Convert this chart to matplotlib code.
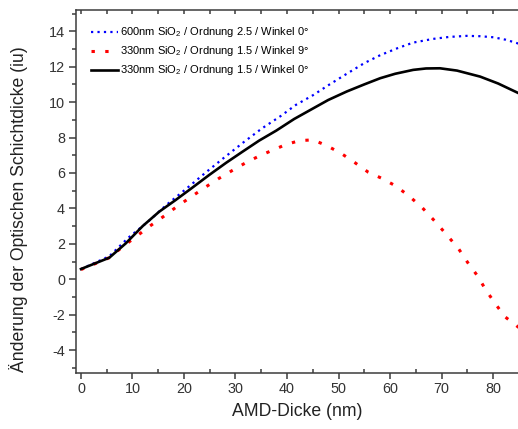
import numpy as np
import matplotlib
matplotlib.use("Agg")
import matplotlib.pyplot as plt
from matplotlib.ticker import MultipleLocator

plt.rcParams['font.family'] = ['Liberation Sans', 'DejaVu Sans']
plt.rcParams['mathtext.fontset'] = 'custom'
plt.rcParams['mathtext.rm'] = 'Liberation Sans'
plt.rcParams['mathtext.it'] = 'Liberation Sans:italic'
plt.rcParams['axes.unicode_minus'] = False

# AMD thickness (nm) and change of optical layer thickness (iu)
x_600_0 = [0, 5.5, 7.4, 9.2, 13.0, 16.6, 20.4, 24.1, 27.8, 31.5, 35.1, 38.8, 41.7,
           45.1, 48.0, 51.6, 55.0, 58.1, 61.5, 64.5, 68.4, 71.5, 74.9, 77.5,
           80.1, 82.5, 85.0]
y_600_0 = [0.58, 1.3, 1.84, 2.35, 3.25, 4.2, 5.1, 6.0, 6.87, 7.72, 8.51, 9.22, 9.84,
           10.4, 10.95, 11.6, 12.2, 12.65, 13.05, 13.36, 13.57, 13.68, 13.74, 13.72,
           13.66, 13.52, 13.3]

x_330_9 = [0, 2.9, 5.5, 8.1, 10.7, 13.4, 16.0, 18.6, 21.4, 24.0, 26.7, 29.3, 32.0,
           34.6, 37.3, 39.9, 42.5, 45.1, 47.8, 50.5, 53.2, 55.8, 58.4, 61.1, 63.7,
           66.3, 68.8, 71.1, 73.3, 75.1, 77.0, 78.6, 80.4, 82.3, 85.0]
y_330_9 = [0.55, 0.9, 1.22, 1.84, 2.41, 3.01, 3.54, 4.1, 4.66, 5.17, 5.68, 6.13, 6.58,
           6.96, 7.3, 7.62, 7.83, 7.87, 7.53, 7.11, 6.58, 6.04, 5.7, 5.27, 4.7,
           4.03, 3.25, 2.48, 1.73, 0.94, 0.19, -0.6, -1.36, -2.11, -2.72]

x_330_0 = [0, 5.5, 8.7, 12.0, 15.2, 18.4, 21.7, 24.9, 28.2, 31.4, 34.6, 37.9, 41.4,
           45.1, 48.0, 51.6, 55.0, 58.1, 61.0, 64.5, 67.0, 69.7, 73.0, 77.5, 81.0,
           85.0]
y_330_0 = [0.58, 1.22, 2.03, 3.01, 3.82, 4.48, 5.19, 5.89, 6.58, 7.21, 7.83, 8.39, 9.05,
           9.65, 10.12, 10.6, 11.0, 11.35, 11.6, 11.82, 11.9, 11.91, 11.78, 11.44, 11.05,
           10.5]

labels = ["600nm SiO$_2$ / Ordnung 2.5 / Winkel 0°",
          "330nm SiO$_2$ / Ordnung 1.5 / Winkel 9°",
          "330nm SiO$_2$ / Ordnung 1.5 / Winkel 0°"]

fig = plt.figure(figsize=(5.18, 4.29), dpi=100)
ax = fig.add_axes([0.1467, 0.1317, 0.8533, 0.845])

ax.plot(x_600_0, y_600_0, color='#0000ff', lw=1.6, linestyle=(0, (1.0, 1.9)),
        label=labels[0])
ax.plot(x_330_9, y_330_9, color='#ff0000', lw=2.2, linestyle=(0, (1.1, 3.4)),
        label=labels[1])
ax.plot(x_330_0, y_330_0, color='#000000', lw=1.9, label=labels[2])

ax.set_xlim(-0.97, 84.85)
ax.set_ylim(-5.26, 15.2)

spine_col = '#3c3c3c'
for side in ['left', 'bottom', 'top']:
    ax.spines[side].set_color(spine_col)
    ax.spines[side].set_linewidth(1.1)
ax.spines['right'].set_visible(False)

ax.xaxis.set_major_locator(MultipleLocator(10))
ax.xaxis.set_minor_locator(MultipleLocator(5))
ax.yaxis.set_major_locator(MultipleLocator(2))
ax.yaxis.set_minor_locator(MultipleLocator(1))

ax.tick_params(axis='x', which='major', direction='out', length=4, width=1.1,
               color=spine_col, labelsize=10.4, pad=3, labelcolor='#333333')
ax.tick_params(axis='x', which='minor', direction='in', length=3, width=1.1,
               color=spine_col)
ax.tick_params(axis='y', which='major', direction='out', length=5, width=1.1,
               color=spine_col, labelsize=10.4, pad=3, labelcolor='#333333')
ax.tick_params(axis='y', which='minor', direction='out', length=3, width=1.1,
               color=spine_col)

top = ax.secondary_xaxis('top')
top.set_xticks(np.arange(0, 90, 5))
top.tick_params(direction='in', length=3, width=1.1, color=spine_col,
                labeltop=False)
top.spines['top'].set_visible(False)

ax.set_xlabel("AMD-Dicke (nm)", fontsize=12.7, color='#222222', labelpad=5)
ax.set_ylabel("Änderung der Optischen Schichtdicke (iu)", fontsize=12.7,
              color='#222222')
ax.yaxis.set_label_coords(-0.108, 0.452)

ax.legend(loc='upper left', bbox_to_anchor=(0.012, 0.985), frameon=False,
          fontsize=8.0, handlelength=2.4, handletextpad=0.2, labelspacing=0.45,
          borderaxespad=0.6, borderpad=0.3)

fig.savefig("out.png", dpi=100)
